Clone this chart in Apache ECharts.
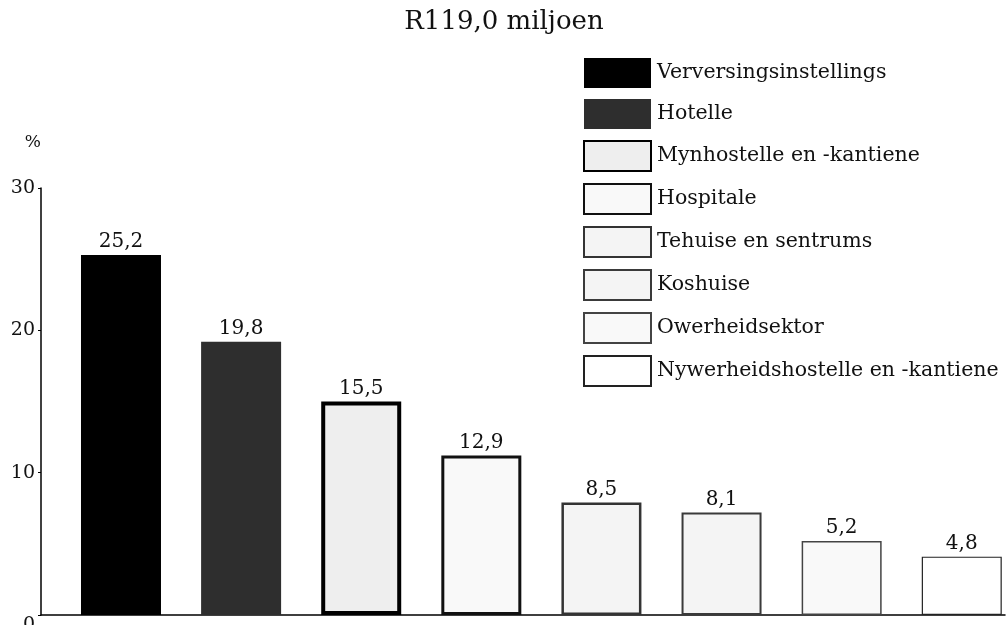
<!DOCTYPE html>
<html>
<head>
<meta charset="utf-8">
<script src="https://cdn.jsdelivr.net/npm/echarts@6/dist/echarts.min.js"></script>
<style>
html,body{margin:0;padding:0;background:#fff;}
#chart{width:1008px;height:625px;}
</style>
</head>
<body>
<div id="chart"></div>
<script>
// ---- data ----
var categories = ['Verversingsinstellings', 'Hotelle', 'Mynhostelle en -kantiene', 'Hospitale',
  'Tehuise en sentrums', 'Koshuise', 'Owerheidsektor', 'Nywerheidshostelle en -kantiene'];
// bar heights as drawn in the picture (%)
var barHeights = [25.3, 19.2, 15.0, 11.2, 7.9, 7.2, 5.2, 4.1];
// printed value labels
var valueLabels = ['25,2', '19,8', '15,5', '12,9', '8,5', '8,1', '5,2', '4,8'];
var yTicks = [0, 10, 20, 30];
var titleText = 'R119,0 miljoen';
var yUnit = '%';

// ---- styles ----
var fills   = ['#000000', '#2e2e2e', '#eeeeee', '#f9f9f9', '#f4f4f4', '#f4f4f4', '#f9f9f9', '#ffffff'];
var borders = ['#000000', '#2e2e2e', '#000000', '#111111', '#333333', '#3a3a3a', '#444444', '#222222'];
var bwidths = [0, 0, 4, 3, 2.5, 2, 1.5, 1.2];
var FONT = 'DejaVu Serif';

var series = categories.map(function (name, i) {
  return {
    name: name,
    type: 'bar',
    barWidth: 80,
    barGap: '-100%',
    data: [[i, barHeights[i]]],
    itemStyle: { color: fills[i], borderColor: borders[i], borderWidth: bwidths[i] },
    label: {
      show: true, position: 'top', distance: 3,
      formatter: function () { return valueLabels[i]; },
      fontFamily: FONT, fontSize: 20, color: '#111'
    },
    emphasis: { disabled: true },
    animation: false
  };
});

var chart = echarts.init(document.getElementById('chart'), null, { renderer: 'canvas' });
chart.setOption({
  backgroundColor: '#fff',
  animation: false,
  title: {
    text: titleText, left: 'center', top: 4,
    textStyle: { fontFamily: FONT, fontSize: 26, fontWeight: 'normal', color: '#111' }
  },
  legend: {
    orient: 'vertical', left: 583, top: 58, padding: 0,
    itemWidth: 67, itemHeight: 30, itemGap: 11,
    icon: 'rect',
    selectedMode: false,
    textStyle: { fontFamily: FONT, fontSize: 20.5, color: '#111', padding: [0, 0, 0, 1] },
    data: categories
  },
  grid: { left: 41, right: 3, top: 188, bottom: 10, containLabel: false, outerBoundsMode: 'none' },
  xAxis: {
    type: 'value', min: -0.666, max: 7.36,
    axisLine: { show: true, onZero: false, lineStyle: { color: '#000', width: 1.5 } },
    axisTick: { show: false }, axisLabel: { show: false }, splitLine: { show: false }
  },
  yAxis: {
    type: 'value', min: yTicks[0], max: yTicks[yTicks.length - 1], interval: 10,
    name: yUnit, nameLocation: 'end', nameGap: 45,
    nameTextStyle: { fontFamily: FONT, fontSize: 17, color: '#111', align: 'right', verticalAlign: 'middle' },
    axisLine: { show: true, onZero: false, lineStyle: { color: '#000', width: 1.5 } },
    axisTick: { show: true, length: 3, lineStyle: { color: '#000' } },
    splitLine: { show: false },
    axisLabel: {
      margin: 6, fontFamily: FONT, fontSize: 19, color: '#111',
      formatter: function (v) { return v === 0 ? '{z|0}' : String(v); },
      rich: { z: { fontFamily: FONT, fontSize: 19, color: '#111', padding: [20, 0, 0, 0] } }
    }
  },
  series: series
});
</script>
</body>
</html>
